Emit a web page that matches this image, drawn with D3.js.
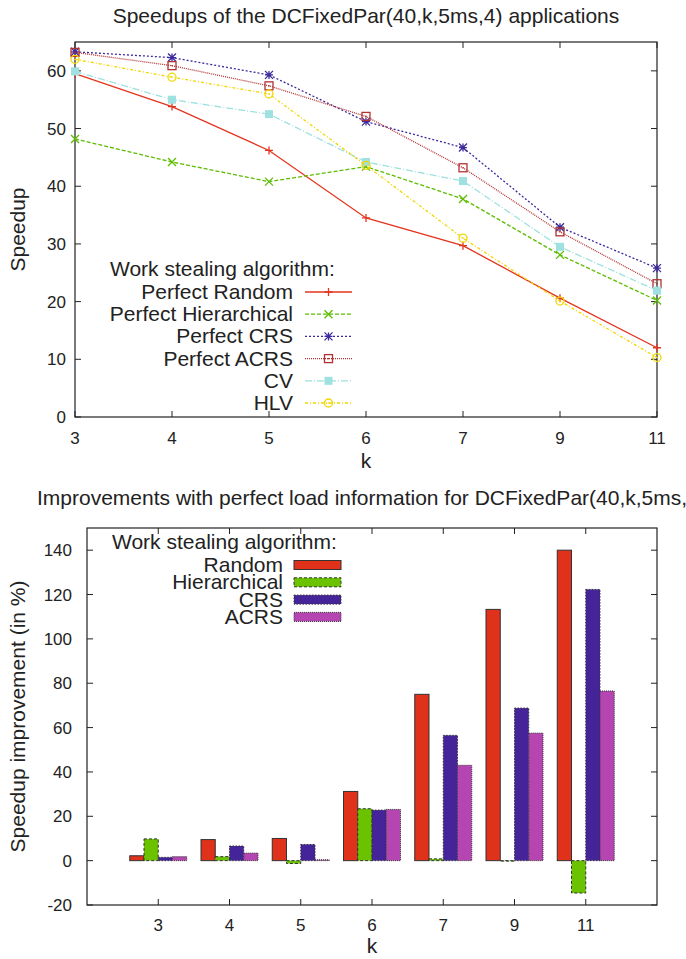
<!DOCTYPE html>
<meta charset="utf-8">
<style>
body { margin: 0; background: #fff; }
text { font-family: "Liberation Sans", Arial, sans-serif; fill: #222; }
</style>
<body>
<script src="https://d3js.org/d3.v7.min.js"></script>
<script>

// ---- data ----
var ks = ["3", "4", "5", "6", "7", "9", "11"];

var lineNames = ["Perfect Random", "Perfect Hierarchical", "Perfect CRS", "Perfect ACRS", "CV", "HLV"];
var perfectRandom       = [59.5, 53.8, 46.2, 34.5, 29.7, 20.6, 12.0];
var perfectHierarchical = [48.2, 44.2, 40.8, 43.4, 37.8, 28.1, 20.2];
var perfectCRS          = [63.3, 62.3, 59.3, 51.2, 46.7, 32.9, 25.8];
var perfectACRS         = [63.2, 60.9, 57.4, 52.1, 43.2, 32.1, 23.1];
var cv                  = [59.9, 55.0, 52.5, 44.2, 40.9, 29.5, 21.9];
var hlv                 = [62.0, 58.9, 56.0, 43.6, 31.0, 20.1, 10.3];
var speedupTicks = [0, 10, 20, 30, 40, 50, 60];

var barNames = ["Random", "Hierarchical", "CRS", "ACRS"];
var impRandom       = [2.2, 9.5, 10.0, 31.2, 75.0, 113.3, 140.0];
var impHierarchical = [9.8, 1.8, -1.3, 23.4, 0.8, -0.2, -14.6];
var impCRS          = [1.5, 6.6, 7.3, 22.8, 56.5, 68.8, 122.3];
var impACRS         = [1.8, 3.4, 0.4, 23.1, 43.0, 57.5, 76.5];
var improvementTicks = [-20, 0, 20, 40, 60, 80, 100, 120, 140];

var width = 686, height = 959;

var svg = d3.select("body").append("svg")
    .attr("width", width)
    .attr("height", height);

// ---- top chart: speedups ----
var lineSeries = [perfectRandom, perfectHierarchical, perfectCRS, perfectACRS, cv, hlv];
var lineColors = ["#e4341e", "#5cbc00", "#3b2a9c", "#b23232", "#9fe0e0", "#f2d600"];
var lineDash = ["none", "4,2", "2,2", "1,1", "7,2,1,2", "3,2,1,2"];
var pointType = ["plus", "cross", "star", "boxdot", "fbox", "circle"];

var m1 = {left: 75, right: 657, top: 42, bottom: 417};

var x1 = d3.scalePoint().domain(ks).range([m1.left, m1.right]);
var y1 = d3.scaleLinear().domain([0, 65]).range([m1.bottom, m1.top]);

var g1 = svg.append("g");

g1.append("text")
    .attr("x", (m1.left + m1.right) / 2)
    .attr("y", 23)
    .attr("text-anchor", "middle")
    .style("font-size", "21px")
    .text("Speedups of the DCFixedPar(40,k,5ms,4) applications");

g1.append("rect")
    .attr("x", m1.left).attr("y", m1.top)
    .attr("width", m1.right - m1.left).attr("height", m1.bottom - m1.top)
    .attr("fill", "none").attr("stroke", "#222").attr("stroke-width", 1.2);

// y ticks, mirrored inward on both sides
speedupTicks.forEach(function(t) {
  var yy = y1(t);
  g1.append("line").attr("x1", m1.left).attr("x2", m1.left + 6).attr("y1", yy).attr("y2", yy).attr("stroke", "#222");
  g1.append("line").attr("x1", m1.right).attr("x2", m1.right - 6).attr("y1", yy).attr("y2", yy).attr("stroke", "#222");
  g1.append("text").attr("x", m1.left - 9).attr("y", yy + 6)
      .attr("text-anchor", "end").style("font-size", "17px").text(t);
});
ks.forEach(function(k) {
  var xx = x1(k);
  g1.append("line").attr("x1", xx).attr("x2", xx).attr("y1", m1.bottom).attr("y2", m1.bottom - 6).attr("stroke", "#222");
  g1.append("line").attr("x1", xx).attr("x2", xx).attr("y1", m1.top).attr("y2", m1.top + 6).attr("stroke", "#222");
  g1.append("text").attr("x", xx).attr("y", m1.bottom + 27)
      .attr("text-anchor", "middle").style("font-size", "17px").text(k);
});

g1.append("text").attr("x", (m1.left + m1.right) / 2).attr("y", 468)
    .attr("text-anchor", "middle").style("font-size", "21px").text("k");
g1.append("text")
    .attr("transform", "translate(25," + (m1.top + m1.bottom) / 2 + ") rotate(-90)")
    .attr("text-anchor", "middle").style("font-size", "21px").text("Speedup");

function drawPoint(g, type, cx, cy, color) {
  var s = 4;
  if (type == "plus") {
    g.append("path").attr("d", "M" + (cx - s) + "," + cy + "h" + 2 * s + "M" + cx + "," + (cy - s) + "v" + 2 * s)
      .attr("stroke", color).attr("stroke-width", 1.3);
  } else if (type == "cross") {
    g.append("path").attr("d", "M" + (cx - s) + "," + (cy - s) + "l" + 2 * s + "," + 2 * s + "M" + (cx - s) + "," + (cy + s) + "l" + 2 * s + "," + (-2 * s))
      .attr("stroke", color).attr("stroke-width", 1.3);
  } else if (type == "star") {
    g.append("path").attr("d", "M" + (cx - s) + "," + (cy - s) + "l" + 2 * s + "," + 2 * s + "M" + (cx - s) + "," + (cy + s) + "l" + 2 * s + "," + (-2 * s) +
        "M" + (cx - s) + "," + cy + "h" + 2 * s + "M" + cx + "," + (cy - s) + "v" + 2 * s)
      .attr("stroke", color).attr("stroke-width", 1.3);
  } else if (type == "boxdot") {
    g.append("rect").attr("x", cx - s).attr("y", cy - s).attr("width", 2 * s).attr("height", 2 * s)
      .attr("fill", "none").attr("stroke", color).attr("stroke-width", 1.3);
    g.append("rect").attr("x", cx - 0.7).attr("y", cy - 0.7).attr("width", 1.4).attr("height", 1.4).attr("fill", color);
  } else if (type == "fbox") {
    g.append("rect").attr("x", cx - s).attr("y", cy - s).attr("width", 2 * s).attr("height", 2 * s).attr("fill", color);
  } else if (type == "circle") {
    g.append("circle").attr("cx", cx).attr("cy", cy).attr("r", s)
      .attr("fill", "none").attr("stroke", color).attr("stroke-width", 1.3);
    g.append("circle").attr("cx", cx).attr("cy", cy).attr("r", 0.8).attr("fill", color);
  }
}

var line = d3.line()
    .x(function(d, i) { return x1(ks[i]); })
    .y(function(d) { return y1(d); });

lineSeries.forEach(function(vals, si) {
  var sg = g1.append("g");
  sg.append("path")
      .datum(vals)
      .attr("d", line)
      .attr("fill", "none")
      .attr("stroke", lineColors[si])
      .attr("stroke-width", 1.3)
      .attr("stroke-dasharray", lineDash[si]);
  vals.forEach(function(v, i) { drawPoint(sg, pointType[si], x1(ks[i]), y1(v), lineColors[si]); });
});

// legend top
g1.append("text").attr("x", 110).attr("y", 276).style("font-size", "21px").text("Work stealing algorithm:");
lineNames.forEach(function(name, i) {
  var yy = 292 + i * 22.2;
  g1.append("text").attr("x", 293).attr("y", yy + 7).attr("text-anchor", "end")
      .style("font-size", "21px").text(name);
  g1.append("line").attr("x1", 305).attr("x2", 352).attr("y1", yy).attr("y2", yy)
      .attr("stroke", lineColors[i]).attr("stroke-width", 1.3).attr("stroke-dasharray", lineDash[i]);
  drawPoint(g1, pointType[i], 328.5, yy, lineColors[i]);
});

// ---- bottom chart: improvements ----
var barSeries = [impRandom, impHierarchical, impCRS, impACRS];
var barColors = ["#e0311a", "#6bc200", "#45249a", "#b545b0"];
var barDash = ["none", "3,2", "1.5,1.5", "1,1"];

var m2 = {left: 87, right: 657, top: 528, bottom: 905};

var x2 = d3.scalePoint().domain(ks).range([m2.left, m2.right]).padding(1);
var inner = d3.scaleBand().domain(barNames).range([-28.5, 28.5]);
var y2 = d3.scaleLinear().domain([-20, 150]).range([m2.bottom, m2.top]);

var g2 = svg.append("g");

// title runs past the right edge, as in the original
g2.append("text")
    .attr("x", 37)
    .attr("y", 505)
    .style("font-size", "21px")
    .text("Improvements with perfect load information for DCFixedPar(40,k,5ms,4) applications");

improvementTicks.forEach(function(t) {
  var yy = y2(t);
  g2.append("line").attr("x1", m2.left).attr("x2", m2.left + 6).attr("y1", yy).attr("y2", yy).attr("stroke", "#222");
  g2.append("line").attr("x1", m2.right).attr("x2", m2.right - 6).attr("y1", yy).attr("y2", yy).attr("stroke", "#222");
  g2.append("text").attr("x", m2.left - 15).attr("y", yy + 6)
      .attr("text-anchor", "end").style("font-size", "17px").text(t);
});
ks.forEach(function(k) {
  var xx = x2(k);
  g2.append("line").attr("x1", xx).attr("x2", xx).attr("y1", m2.bottom).attr("y2", m2.bottom - 6).attr("stroke", "#222");
  g2.append("line").attr("x1", xx).attr("x2", xx).attr("y1", m2.top).attr("y2", m2.top + 6).attr("stroke", "#222");
  g2.append("text").attr("x", xx).attr("y", m2.bottom + 26)
      .attr("text-anchor", "middle").style("font-size", "17px").text(k);
});

barSeries.forEach(function(vals, si) {
  g2.append("g").selectAll("rect")
      .data(vals)
      .enter()
      .append("rect")
      .attr("x", function(d, i) { return x2(ks[i]) + inner(barNames[si]); })
      .attr("y", function(d) { return y2(Math.max(d, 0)); })
      .attr("width", inner.bandwidth())
      .attr("height", function(d) { return Math.abs(y2(d) - y2(0)); })
      .attr("fill", barColors[si])
      .attr("stroke", "#333")
      .attr("stroke-width", 1)
      .attr("stroke-dasharray", barDash[si]);
});

g2.append("rect")
    .attr("x", m2.left).attr("y", m2.top)
    .attr("width", m2.right - m2.left).attr("height", m2.bottom - m2.top)
    .attr("fill", "none").attr("stroke", "#222").attr("stroke-width", 1.2);

g2.append("text").attr("x", (m2.left + m2.right) / 2).attr("y", 953)
    .attr("text-anchor", "middle").style("font-size", "21px").text("k");
g2.append("text")
    .attr("transform", "translate(25," + (m2.top + m2.bottom) / 2 + ") rotate(-90)")
    .attr("text-anchor", "middle").style("font-size", "21px").text("Speedup improvement (in %)");

// legend bottom
g2.append("text").attr("x", 112).attr("y", 549).style("font-size", "21px").text("Work stealing algorithm:");
barNames.forEach(function(name, i) {
  var yy = 565 + i * 17.3;
  g2.append("text").attr("x", 283).attr("y", yy + 7).attr("text-anchor", "end")
      .style("font-size", "21px").text(name);
  g2.append("rect").attr("x", 294).attr("y", yy - 4.5).attr("width", 47).attr("height", 9)
      .attr("fill", barColors[i]).attr("stroke", "#333").attr("stroke-dasharray", barDash[i]);
});

</script>
</body>
